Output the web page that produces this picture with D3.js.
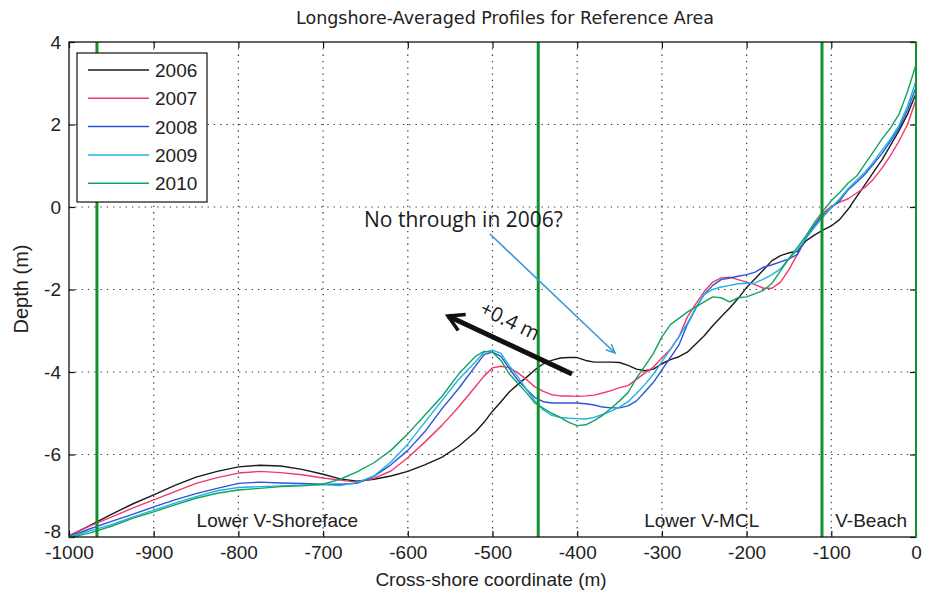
<!DOCTYPE html>
<html>
<head>
<meta charset="utf-8">
<script src="https://cdn.jsdelivr.net/npm/d3@7"></script>
<style>
  html, body { margin: 0; padding: 0; background: #ffffff; }
  svg { display: block; }
  text { font-family: "Liberation Sans", Arial, sans-serif; fill: #222; }
</style>
</head>
<body>
<svg id="chart" width="929" height="594"></svg>
<script>
// Cross-shore coordinate (m)
const xs = [-1000, -975, -950, -925, -900, -875, -850, -825, -800, -775, -750, -725, -700,
  -680, -660, -640, -620, -600, -580, -560, -540, -520,
  -510, -500, -490, -480, -470, -460, -450, -440, -430, -420, -410, -400,
  -390, -380, -370, -360, -350, -340, -330, -320, -310, -300,
  -290, -280, -270, -260, -250, -240, -230, -220, -210, -200,
  -190, -180, -170, -160, -150, -140, -130, -120, -110, -100,
  -90, -80, -70, -60, -50, -40, -30, -20, -10, 0];

// Longshore-averaged depth (m) per survey year
const depth2006 = [-7.98, -7.72, -7.45, -7.20, -6.98, -6.75, -6.55, -6.41, -6.30, -6.26, -6.28, -6.36, -6.48,
  -6.59, -6.65, -6.60, -6.52, -6.41, -6.25, -6.07, -5.80, -5.45,
  -5.22, -4.95, -4.72, -4.48, -4.30, -4.13, -3.95, -3.80, -3.72, -3.66, -3.65, -3.65,
  -3.72, -3.76, -3.76, -3.76, -3.77, -3.84, -3.93, -3.97, -3.93, -3.80,
  -3.70, -3.63, -3.52, -3.32, -3.12, -2.88, -2.66, -2.45, -2.22, -1.95,
  -1.74, -1.52, -1.30, -1.18, -1.11, -1.08, -0.82, -0.68, -0.56, -0.46,
  -0.30, -0.05, 0.25, 0.55, 0.85, 1.15, 1.50, 1.85, 2.25, 2.75];

const depth2007 = [-7.96, -7.73, -7.52, -7.30, -7.10, -6.90, -6.70, -6.56, -6.45, -6.41, -6.44, -6.49, -6.57,
  -6.62, -6.67, -6.58, -6.40, -6.08, -5.70, -5.30, -4.85, -4.35,
  -4.10, -3.90, -3.86, -3.90, -4.02, -4.18, -4.36, -4.47, -4.55, -4.58, -4.58, -4.59,
  -4.58, -4.56, -4.51, -4.45, -4.38, -4.33, -4.18, -4.02, -3.88, -3.66,
  -3.45, -3.15, -2.67, -2.35, -2.05, -1.82, -1.72, -1.70, -1.76, -1.82,
  -1.88, -1.97, -1.97, -1.82, -1.52, -1.15, -0.75, -0.45, -0.15, 0.02,
  0.12, 0.20, 0.34, 0.48, 0.68, 0.95, 1.25, 1.60, 2.00, 2.60];

const depth2008 = [-8.00, -7.80, -7.62, -7.45, -7.27, -7.10, -6.95, -6.82, -6.70, -6.67, -6.69, -6.70, -6.72,
  -6.72, -6.70, -6.53, -6.25, -5.90, -5.45, -4.90, -4.40, -3.85,
  -3.58, -3.52, -3.62, -3.92, -4.20, -4.42, -4.62, -4.72, -4.75, -4.75, -4.75, -4.75,
  -4.77, -4.80, -4.85, -4.87, -4.87, -4.82, -4.70, -4.48, -4.25, -3.95,
  -3.65, -3.35, -2.85, -2.45, -2.12, -1.90, -1.76, -1.72, -1.68, -1.64,
  -1.58, -1.46, -1.40, -1.33, -1.26, -1.15, -0.76, -0.45, -0.20, -0.02,
  0.15, 0.42, 0.60, 0.80, 1.05, 1.30, 1.60, 1.92, 2.35, 2.90];

const depth2009 = [-8.00, -7.85, -7.70, -7.52, -7.35, -7.18, -7.02, -6.88, -6.80, -6.78, -6.76, -6.74, -6.73,
  -6.75, -6.68, -6.52, -6.18, -5.75, -5.22, -4.70, -4.18, -3.75,
  -3.52, -3.47, -3.55, -3.85, -4.12, -4.42, -4.70, -4.92, -5.05, -5.10, -5.12, -5.13,
  -5.14, -5.10, -5.03, -4.95, -4.85, -4.72, -4.52, -4.30, -4.05, -3.75,
  -3.45, -3.15, -2.82, -2.45, -2.12, -2.00, -1.94, -1.90, -1.86, -1.85,
  -1.84, -1.75, -1.64, -1.50, -1.25, -1.04, -0.76, -0.50, -0.25, -0.02,
  0.20, 0.45, 0.65, 0.85, 1.10, 1.38, 1.65, 1.98, 2.45, 3.05];

const depth2010 = [-8.02, -7.90, -7.74, -7.55, -7.39, -7.22, -7.06, -6.94, -6.86, -6.82, -6.78, -6.76, -6.72,
  -6.60, -6.42, -6.20, -5.90, -5.50, -5.05, -4.60, -4.05, -3.62,
  -3.50, -3.52, -3.72, -4.05, -4.28, -4.50, -4.75, -4.88, -5.00, -5.10, -5.22, -5.30,
  -5.28, -5.18, -5.05, -4.88, -4.70, -4.50, -4.15, -3.85, -3.55, -3.15,
  -2.85, -2.70, -2.55, -2.42, -2.30, -2.18, -2.20, -2.30, -2.20, -2.18,
  -2.10, -2.02, -1.85, -1.55, -1.25, -0.98, -0.70, -0.38, -0.10, 0.15,
  0.35, 0.58, 0.75, 1.05, 1.35, 1.65, 1.92, 2.25, 2.80, 3.45];

const years = ["2006", "2007", "2008", "2009", "2010"];
const seriesDepths = [depth2006, depth2007, depth2008, depth2009, depth2010];
const seriesColors = ["#1a1a1a", "#f2386a", "#2a55d6", "#1fb2e6", "#12a35c"];

// Zone boundaries (m) and zone names
const boundaries = [-967, -446, -111, 0];
const zoneNames = ["Lower V-Shoreface", "Lower V-MCL", "V-Beach"];
const zoneLabelX = [-754, -253, -53];

const xTicks = [-1000, -900, -800, -700, -600, -500, -400, -300, -200, -100, 0];
const yTicks = [-8, -6, -4, -2, 0, 2, 4];

const svg = d3.select("#chart");
const m = { left: 69, right: 916, top: 42, bottom: 537 };

const x = d3.scaleLinear().domain([-1000, 0]).range([m.left, m.right]);
const y = d3.scaleLinear().domain([-8, 4]).range([m.bottom, m.top]);

const narrow = "'Liberation Sans Narrow', 'Liberation Sans', Arial, sans-serif";

// dotted grid
const grid = svg.append("g");
grid.selectAll("line.gx").data(xTicks.slice(1, -1)).join("line")
  .attr("x1", d => x(d)).attr("x2", d => x(d))
  .attr("y1", m.top).attr("y2", m.bottom)
  .attr("stroke", "#333").attr("stroke-width", 1.2)
  .attr("stroke-dasharray", "1.3,5");
grid.selectAll("line.gy").data(yTicks.slice(1, -1)).join("line")
  .attr("x1", m.left).attr("x2", m.right)
  .attr("y1", d => y(d)).attr("y2", d => y(d))
  .attr("stroke", "#333").attr("stroke-width", 1.2)
  .attr("stroke-dasharray", "1.3,5");

// axes (ticks pointing inward)
const xAxis = d3.axisBottom(x).tickValues(xTicks).tickSize(-6).tickPadding(9)
  .tickFormat(d => String(d));
const yAxis = d3.axisLeft(y).tickValues(yTicks).tickSize(-6).tickPadding(8)
  .tickFormat(d => String(d));

const gx = svg.append("g").attr("transform", `translate(0,${m.bottom})`).call(xAxis);
const gy = svg.append("g").attr("transform", `translate(${m.left},0)`).call(yAxis);
const gxTop = svg.append("g").attr("transform", `translate(0,${m.top})`)
  .call(d3.axisTop(x).tickValues(xTicks).tickSize(-6).tickFormat(""));
const gyRight = svg.append("g").attr("transform", `translate(${m.right},0)`)
  .call(d3.axisRight(y).tickValues(yTicks).tickSize(-6).tickFormat(""));
[gx, gy, gxTop, gyRight].forEach(g => {
  g.select(".domain").remove();
  g.selectAll(".tick line").attr("stroke", "#111").attr("stroke-width", 1.2);
  g.selectAll(".tick text").style("font-size", "19px").style("fill", "#222")
    .style("font-family", narrow);
});
// keep the lowest depth label clear of the first cross-shore label
gy.selectAll(".tick").filter(d => d === -8).select("text").attr("dy", "0.05em");

// profile lines
const line = d3.line().x((d, i) => x(xs[i])).y(d => y(d));
svg.append("g").selectAll("path").data(seriesDepths).join("path")
  .attr("d", d => line(d))
  .attr("fill", "none")
  .attr("stroke", (d, i) => seriesColors[i])
  .attr("stroke-width", 1.4)
  .attr("stroke-linejoin", "round");

// zone boundaries
svg.append("g").selectAll("line").data(boundaries).join("line")
  .attr("x1", d => x(d)).attr("x2", d => x(d))
  .attr("y1", m.top).attr("y2", m.bottom)
  .attr("stroke", "#13912f").attr("stroke-width", d => d === 0 ? 2 : 3);

// axes frame
svg.append("rect")
  .attr("x", m.left).attr("y", m.top)
  .attr("width", m.right - m.left).attr("height", m.bottom - m.top)
  .attr("fill", "none").attr("stroke", "#111").attr("stroke-width", 1.3);
svg.append("line")
  .attr("x1", x(0)).attr("x2", x(0)).attr("y1", m.top).attr("y2", m.bottom)
  .attr("stroke", "#13912f").attr("stroke-width", 2);

// zone names
svg.append("g").selectAll("text").data(zoneNames).join("text")
  .attr("x", (d, i) => x(zoneLabelX[i])).attr("y", 527)
  .attr("text-anchor", "middle")
  .style("font-size", "19px")
  .text(d => d);

// title and axis labels
svg.append("text").attr("x", 505).attr("y", 24).attr("text-anchor", "middle")
  .style("font-family", "'DejaVu Sans', sans-serif")
  .style("font-size", "17.5px").text("Longshore-Averaged Profiles for Reference Area");
svg.append("text").attr("x", 491).attr("y", 586).attr("text-anchor", "middle")
  .style("font-size", "19px").text("Cross-shore coordinate (m)");
svg.append("text").attr("transform", "translate(28,289) rotate(-90)")
  .attr("text-anchor", "middle").style("font-size", "20px").text("Depth (m)");

// legend
const lg = svg.append("g");
lg.append("rect").attr("x", 77).attr("y", 53).attr("width", 130).attr("height", 149)
  .attr("fill", "#fff").attr("stroke", "#111").attr("stroke-width", 1.2);
const rows = lg.selectAll("g.row").data(years).join("g")
  .attr("transform", (d, i) => `translate(0,${70 + i * 28.3})`);
rows.append("line").attr("x1", 88).attr("x2", 149).attr("y1", 0).attr("y2", 0)
  .attr("stroke", (d, i) => seriesColors[i]).attr("stroke-width", 1.5);
rows.append("text").attr("x", 155).attr("y", 7).style("font-size", "19px")
  .style("font-family", narrow)
  .text(d => d);

// annotations
const defs = svg.append("defs");
defs.append("marker").attr("id", "headBlue").attr("viewBox", "0 0 10 10")
  .attr("refX", 9).attr("refY", 5).attr("markerWidth", 10).attr("markerHeight", 10)
  .attr("markerUnits", "userSpaceOnUse").attr("orient", "auto")
  .append("path").attr("d", "M0,1 L9,5 L0,9").attr("fill", "none")
  .attr("stroke", "#3a97d6").attr("stroke-width", 1.5);
defs.append("marker").attr("id", "headBlack").attr("viewBox", "0 0 10 10")
  .attr("refX", 8).attr("refY", 5).attr("markerWidth", 22).attr("markerHeight", 22)
  .attr("markerUnits", "userSpaceOnUse").attr("orient", "auto")
  .append("path").attr("d", "M1,1 L8,5 L1,9").attr("fill", "none")
  .attr("stroke", "#111").attr("stroke-width", 1.6);

svg.append("text").attr("x", 364).attr("y", 227)
  .style("font-family", "'Open Sans', 'Noto Sans', sans-serif").style("font-size", "21px")
  .style("fill", "#1c1c1c").text("No through in 2006?");
svg.append("line").attr("x1", 490).attr("y1", 234).attr("x2", 615).attr("y2", 353)
  .attr("stroke", "#3a97d6").attr("stroke-width", 1.6).attr("marker-end", "url(#headBlue)");

svg.append("line").attr("x1", 572).attr("y1", 374).attr("x2", 448).attr("y2", 316)
  .attr("stroke", "#111").attr("stroke-width", 5).attr("marker-end", "url(#headBlack)");
svg.append("text").attr("transform", "translate(507,327) rotate(26)")
  .attr("text-anchor", "middle")
  .style("font-family", "'Open Sans', 'Noto Sans', sans-serif").style("font-size", "20px")
  .style("fill", "#1c1c1c").text("+0.4 m");
</script>
</body>
</html>
